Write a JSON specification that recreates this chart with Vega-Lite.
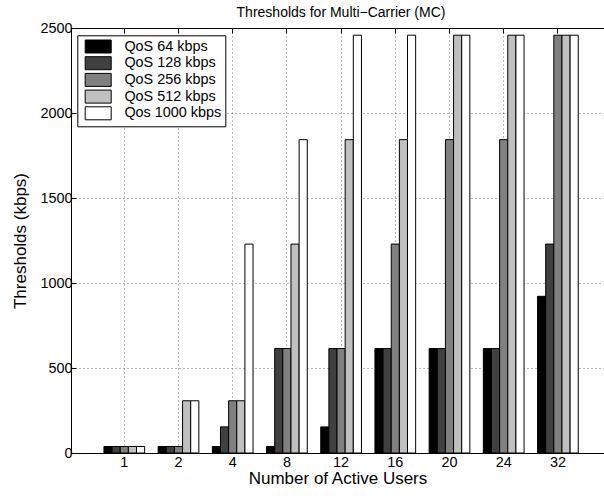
{
  "$schema": "https://vega.github.io/schema/vega-lite/v6.json",
  "width": 533,
  "height": 425,
  "autosize": {"type": "none"},
  "padding": {"left": 71, "top": 28, "right": 0, "bottom": 43},
  "background": "white",
  "view": {"stroke": "transparent", "strokeWidth": 0},
  "title": {
    "text": "Thresholds for Multi−Carrier (MC)",
    "font": "Liberation Sans",
    "fontSize": 14,
    "fontWeight": "normal",
    "color": "black",
    "anchor": "middle",
    "frame": "group",
    "dx": 3.5,
    "dy": 14,
    "offset": 0,
    "baseline": "bottom"
  },
  "config": {
    "view": {"stroke": null},
    "style": {"cell": {"stroke": "transparent", "strokeWidth": 0}},
    "axis": {
      "labelFont": "Liberation Sans",
      "titleFont": "Liberation Sans",
      "labelFontSize": 14.4,
      "titleFontSize": 17,
      "titleFontWeight": "normal",
      "labelColor": "black",
      "titleColor": "black",
      "domainColor": "black",
      "domainWidth": 1,
      "tickColor": "black",
      "tickSize": -5,
      "tickExtra": false,
      "gridColor": "#000000",
      "gridOpacity": 0.55,
      "gridDash": [1, 3],
      "gridWidth": 1
    }
  },
  "data": {
    "values": [
      {"users": "1", "qos": "QoS 64 kbps", "value": 38.4},
      {"users": "1", "qos": "QoS 128 kbps", "value": 38.4},
      {"users": "1", "qos": "QoS 256 kbps", "value": 38.4},
      {"users": "1", "qos": "QoS 512 kbps", "value": 38.4},
      {"users": "1", "qos": "Qos 1000 kbps", "value": 38.4},
      {"users": "2", "qos": "QoS 64 kbps", "value": 38.4},
      {"users": "2", "qos": "QoS 128 kbps", "value": 38.4},
      {"users": "2", "qos": "QoS 256 kbps", "value": 38.4},
      {"users": "2", "qos": "QoS 512 kbps", "value": 307.2},
      {"users": "2", "qos": "Qos 1000 kbps", "value": 307.2},
      {"users": "4", "qos": "QoS 64 kbps", "value": 38.4},
      {"users": "4", "qos": "QoS 128 kbps", "value": 153.6},
      {"users": "4", "qos": "QoS 256 kbps", "value": 307.2},
      {"users": "4", "qos": "QoS 512 kbps", "value": 307.2},
      {"users": "4", "qos": "Qos 1000 kbps", "value": 1228.8},
      {"users": "8", "qos": "QoS 64 kbps", "value": 38.4},
      {"users": "8", "qos": "QoS 128 kbps", "value": 614.4},
      {"users": "8", "qos": "QoS 256 kbps", "value": 614.4},
      {"users": "8", "qos": "QoS 512 kbps", "value": 1228.8},
      {"users": "8", "qos": "Qos 1000 kbps", "value": 1843.2},
      {"users": "12", "qos": "QoS 64 kbps", "value": 153.6},
      {"users": "12", "qos": "QoS 128 kbps", "value": 614.4},
      {"users": "12", "qos": "QoS 256 kbps", "value": 614.4},
      {"users": "12", "qos": "QoS 512 kbps", "value": 1843.2},
      {"users": "12", "qos": "Qos 1000 kbps", "value": 2457.6},
      {"users": "16", "qos": "QoS 64 kbps", "value": 614.4},
      {"users": "16", "qos": "QoS 128 kbps", "value": 614.4},
      {"users": "16", "qos": "QoS 256 kbps", "value": 1228.8},
      {"users": "16", "qos": "QoS 512 kbps", "value": 1843.2},
      {"users": "16", "qos": "Qos 1000 kbps", "value": 2457.6},
      {"users": "20", "qos": "QoS 64 kbps", "value": 614.4},
      {"users": "20", "qos": "QoS 128 kbps", "value": 614.4},
      {"users": "20", "qos": "QoS 256 kbps", "value": 1843.2},
      {"users": "20", "qos": "QoS 512 kbps", "value": 2457.6},
      {"users": "20", "qos": "Qos 1000 kbps", "value": 2457.6},
      {"users": "24", "qos": "QoS 64 kbps", "value": 614.4},
      {"users": "24", "qos": "QoS 128 kbps", "value": 614.4},
      {"users": "24", "qos": "QoS 256 kbps", "value": 1843.2},
      {"users": "24", "qos": "QoS 512 kbps", "value": 2457.6},
      {"users": "24", "qos": "Qos 1000 kbps", "value": 2457.6},
      {"users": "32", "qos": "QoS 64 kbps", "value": 921.6},
      {"users": "32", "qos": "QoS 128 kbps", "value": 1228.8},
      {"users": "32", "qos": "QoS 256 kbps", "value": 2457.6},
      {"users": "32", "qos": "QoS 512 kbps", "value": 2457.6},
      {"users": "32", "qos": "Qos 1000 kbps", "value": 2457.6}
    ]
  },
  "layer": [
    {
      "mark": {"type": "bar", "stroke": "black", "strokeWidth": 1},
      "encoding": {
        "x": {
          "field": "users",
          "type": "nominal",
          "sort": ["1", "2", "4", "8", "12", "16", "20", "24", "32"],
          "scale": {"type": "band", "paddingInner": 0.249, "paddingOuter": 0.5415, "align": 0.5613, "round": false},
          "axis": {
            "orient": "bottom",
            "title": "Number of Active Users",
            "labelAngle": 0,
            "labelPadding": 7,
            "titlePadding": 2,
            "grid": true,
            "bandPosition": 0.5,
            "tickBand": "center"
          }
        },
        "xOffset": {
          "field": "qos",
          "type": "nominal",
          "sort": ["QoS 64 kbps", "QoS 128 kbps", "QoS 256 kbps", "QoS 512 kbps", "Qos 1000 kbps"],
          "scale": {"paddingInner": 0, "paddingOuter": 0}
        },
        "y": {
          "field": "value",
          "type": "quantitative",
          "scale": {"domain": [0, 2500], "nice": false},
          "axis": {
            "values": [0, 500, 1000, 1500, 2000, 2500],
            "format": "d",
            "title": "Thresholds (kbps)",
            "grid": true,
            "labelPadding": 4,
            "titlePadding": 10
          }
        },
        "color": {
          "field": "qos",
          "type": "nominal",
          "scale": {
            "domain": ["QoS 64 kbps", "QoS 128 kbps", "QoS 256 kbps", "QoS 512 kbps", "Qos 1000 kbps"],
            "range": ["#000000", "#404040", "#808080", "#c0c0c0", "#ffffff"]
          },
          "legend": {
            "title": null,
            "orient": "none",
            "legendX": 6.3,
            "legendY": 7.3,
            "symbolType": "M-2,-1H2V1H-2Z",
            "symbolSize": 169,
            "symbolStrokeColor": "black",
            "symbolStrokeWidth": 1,
            "symbolOpacity": 1,
            "symbolOffset": 9.7,
            "labelOffset": 19,
            "labelFont": "Liberation Sans",
            "labelFontSize": 14.4,
            "labelColor": "black",
            "labelExpr": "datum.label + '\u00a0\u00a0\u00a0\u00a0'",
            "strokeColor": "black",
            "fillColor": "white",
            "padding": 4,
            "rowPadding": -1.3
          }
        }
      }
    },
    {
      "mark": {"type": "point", "opacity": 0},
      "encoding": {
        "x": {
          "field": "users",
          "type": "nominal",
          "sort": ["1", "2", "4", "8", "12", "16", "20", "24", "32"],
          "scale": {"type": "band", "paddingInner": 0.249, "paddingOuter": 0.5415, "align": 0.5613, "round": false},
          "axis": {
            "orient": "top",
            "title": null,
            "labels": false,
            "grid": false,
            "bandPosition": 0.5,
            "tickBand": "center",
            "zindex": 1
          }
        }
      }
    }
  ],
  "resolve": {"axis": {"x": "independent"}}
}
